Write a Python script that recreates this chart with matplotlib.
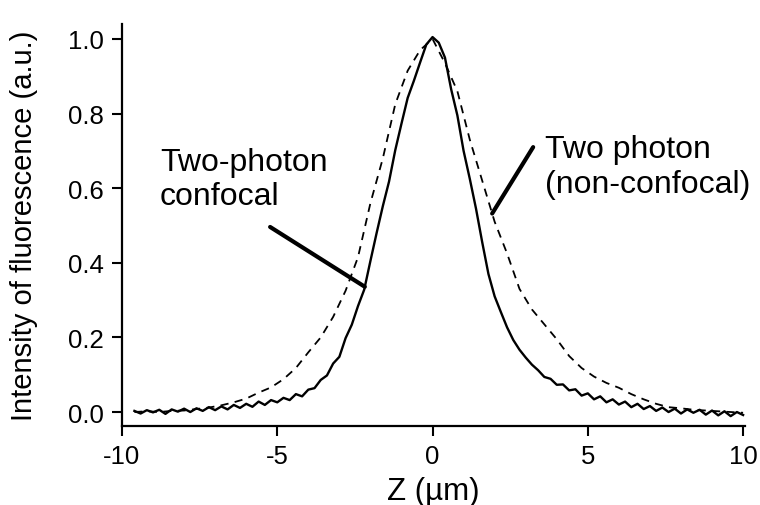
import matplotlib
matplotlib.use('Agg')
import matplotlib.pyplot as plt
import numpy as np

plt.rcParams['font.family'] = ['Liberation Sans', 'DejaVu Sans']
plt.rcParams['axes.unicode_minus'] = False

# two-photon confocal trace (solid), every 0.2 um
z_conf = [-9.6, -9.4, -9.2, -9.0, -8.8, -8.6, -8.4, -8.2, -8.0, -7.8,
          -7.6, -7.4, -7.2, -7.0, -6.8, -6.6, -6.4, -6.2, -6.0, -5.8,
          -5.6, -5.4, -5.2, -5.0, -4.8, -4.6, -4.4, -4.2, -4.0, -3.8,
          -3.6, -3.4, -3.2, -3.0, -2.8, -2.6, -2.4, -2.2, -2.0, -1.8,
          -1.6, -1.4, -1.2, -1.0, -0.8, -0.6, -0.4, -0.2, 0.0, 0.2,
          0.4, 0.6, 0.8, 1.0, 1.2, 1.4, 1.6, 1.8, 2.0, 2.2,
          2.4, 2.6, 2.8, 3.0, 3.2, 3.4, 3.6, 3.8, 4.0, 4.2,
          4.4, 4.6, 4.8, 5.0, 5.2, 5.4, 5.6, 5.8, 6.0, 6.2,
          6.4, 6.6, 6.8, 7.0, 7.2, 7.4, 7.6, 7.8, 8.0, 8.2,
          8.4, 8.6, 8.8, 9.0, 9.2, 9.4, 9.6, 9.8, 10.0]
i_conf = [0.003, -0.004, 0.005, -0.001, 0.006, -0.005, 0.007, 0.001, 0.009, 0.000,
          0.010, 0.003, 0.013, 0.005, 0.015, 0.007, 0.019, 0.011, 0.022, 0.014,
          0.028, 0.019, 0.032, 0.026, 0.038, 0.032, 0.048, 0.042, 0.060, 0.064,
          0.086, 0.098, 0.130, 0.148, 0.198, 0.234, 0.284, 0.328, 0.405, 0.480,
          0.552, 0.618, 0.702, 0.773, 0.842, 0.888, 0.937, 0.985, 1.005, 0.990,
          0.950, 0.865, 0.795, 0.700, 0.625, 0.545, 0.455, 0.370, 0.310, 0.268,
          0.227, 0.193, 0.167, 0.146, 0.127, 0.112, 0.094, 0.089, 0.073, 0.074,
          0.058, 0.061, 0.044, 0.050, 0.034, 0.042, 0.026, 0.034, 0.020, 0.028,
          0.013, 0.022, 0.008, 0.016, 0.003, 0.012, 0.000, 0.009, -0.004, 0.007,
          -0.002, 0.006, -0.007, 0.004, -0.009, 0.002, -0.011, 0.000, -0.008]

# two-photon non-confocal trace (dashed), every 0.4 um
z_nonconf = [-9.6, -9.2, -8.8, -8.4, -8.0, -7.6, -7.2, -6.8, -6.4, -6.0,
             -5.6, -5.2, -4.8, -4.4, -4.0, -3.6, -3.2, -2.8, -2.4, -2.0,
             -1.6, -1.2, -0.8, -0.4, 0.0, 0.4, 0.8, 1.2, 1.6, 2.0,
             2.4, 2.8, 3.2, 3.6, 4.0, 4.4, 4.8, 5.2, 5.6, 6.0,
             6.4, 6.8, 7.2, 7.6, 8.0, 8.4, 8.8, 9.2, 9.6, 10.0]
i_nonconf = [0.000, 0.002, 0.000, 0.003, 0.004, 0.008, 0.012, 0.018, 0.026, 0.036,
             0.052, 0.066, 0.088, 0.118, 0.160, 0.200, 0.255, 0.325, 0.415, 0.560,
             0.680, 0.825, 0.915, 0.970, 1.000, 0.935, 0.860, 0.730, 0.620, 0.510,
             0.425, 0.330, 0.275, 0.235, 0.195, 0.150, 0.118, 0.095, 0.078, 0.065,
             0.048, 0.034, 0.022, 0.013, 0.010, 0.006, 0.004, 0.002, 0.000, -0.002]

x_ticks = [-10, -5, 0, 5, 10]
y_ticks = [0.0, 0.2, 0.4, 0.6, 0.8, 1.0]

# labels and where their pointer lines touch the curves
conf_label = 'Two-photon\nconfocal'
conf_text_pos = (-8.78, 0.625)
conf_line_start = (-5.23, 0.496)
conf_point_z = -2.18
nonconf_label = 'Two photon\n(non-confocal)'
nonconf_text_pos = (3.62, 0.658)
nonconf_line_start = (3.24, 0.71)
nonconf_point_z = 1.92

fig = plt.figure(figsize=(7.6, 5.06), dpi=100)
ax = fig.add_axes([0.1605, 0.1561, 0.8197, 0.7945])

ax.plot(z_nonconf, i_nonconf, color='black', lw=1.3, dashes=(4.5, 3.5))
ax.plot(z_conf, i_conf, color='black', lw=1.7)

# pointer lines
ax.annotate('', xy=(conf_point_z, np.interp(conf_point_z, z_conf, i_conf)),
            xytext=conf_line_start,
            arrowprops=dict(arrowstyle='-', lw=3, color='black', shrinkA=0, shrinkB=0))
ax.annotate('', xy=(nonconf_point_z, np.interp(nonconf_point_z, z_nonconf, i_nonconf)),
            xytext=nonconf_line_start,
            arrowprops=dict(arrowstyle='-', lw=3, color='black', shrinkA=0, shrinkB=0))
ax.text(conf_text_pos[0], conf_text_pos[1], conf_label, fontsize=23,
        ha='left', va='center', linespacing=1.18)
ax.text(nonconf_text_pos[0], nonconf_text_pos[1], nonconf_label, fontsize=23,
        ha='left', va='center', linespacing=1.18)

ax.set_xlim(-10, 10.06)
ax.set_ylim(-0.0375, 1.04)
ax.set_xticks(x_ticks)
ax.set_yticks(y_ticks)
ax.set_yticklabels(['%.1f' % v for v in y_ticks])

for side in ['top', 'right']:
    ax.spines[side].set_visible(False)
for side in ['left', 'bottom']:
    ax.spines[side].set_linewidth(1.6)

ax.tick_params(axis='both', direction='out', length=7, width=1.5, labelsize=18.5, pad=6)
ax.set_xlabel('Z (µm)', fontsize=22.5, labelpad=6)
ax.set_ylabel('Intensity of fluorescence (a.u.)', fontsize=21)
ax.yaxis.set_label_coords(-0.135, 0.5)

fig.savefig('out.png', dpi=100)
